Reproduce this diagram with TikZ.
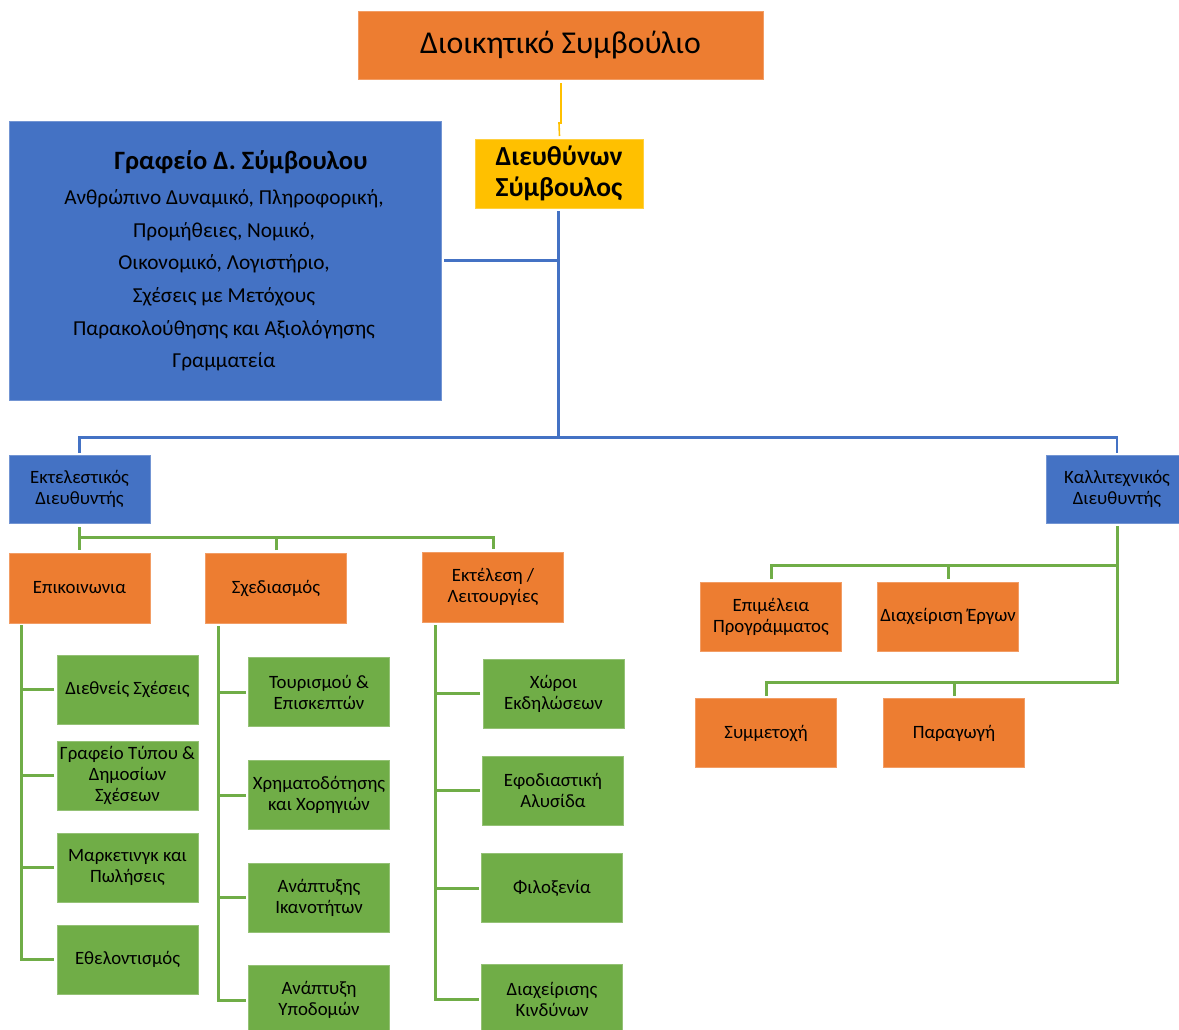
\documentclass[tikz,border=0pt]{standalone}
\usepackage{fontspec}
\setmainfont{Carlito}
\definecolor{corange}{HTML}{ED7D31}
\definecolor{cyellow}{HTML}{FFC000}
\definecolor{cblue}{HTML}{4472C4}
\definecolor{cgreen}{HTML}{70AD47}
\tikzset{
  box/.style={rectangle, inner sep=0pt, outer sep=0pt, align=center,
    minimum width=141pt, minimum height=69pt, text=black,
    font=\fontsize{18.8}{21}\selectfont},
  obox/.style={box, fill=corange, draw=corange!75!white, line width=0.8pt},
  gbox/.style={box, fill=cgreen, draw=cgreen!75!white, line width=0.8pt},
  bbox/.style={box, fill=cblue, draw=cblue!75!white, line width=0.8pt},
  bl/.style={draw=cblue, line width=2.5pt},
  gl/.style={draw=cgreen, line width=3pt},
  yl/.style={draw=cyellow, line width=1.6pt},
}
\begin{document}
\begin{tikzpicture}[x=1pt,y=-1pt]
\useasboundingbox (0,0) rectangle (1179,1029);
\fill[white] (0,0) rectangle (1179,1029);

% top
\node[obox, minimum width=405pt, minimum height=68pt, font=\fontsize{31.8}{36}\selectfont] (board) at (560.5,45) {Διοικητικό Συμβούλιο};
\node[box, fill=cyellow, draw=cyellow!75!white, line width=0.8pt, minimum width=168pt, minimum height=69pt, font=\fontsize{27.5}{31.5}\selectfont\bfseries] (ceo) at (559,173.5) {Διευθύνων\\Σύμβουλος};
\node[bbox, minimum width=432pt, minimum height=279pt] (office) at (225,260.5) {};
\node[font=\fontsize{26.5}{30}\selectfont\bfseries, inner sep=0pt] (officetitle) at (241,162) {Γραφείο Δ. Σύμβουλου};
\node[font=\fontsize{21.3}{32.6}\selectfont, align=center, inner sep=0pt] (officebody) at (224,280.5) {Ανθρώπινο Δυναμικό, Πληροφορική,\\Προμήθειες, Νομικό,\\Οικονομικό, Λογιστήριο,\\Σχέσεις με Μετόχους\\Παρακολούθησης και Αξιολόγησης\\Γραμματεία};

% directors
\node[bbox, minimum height=68pt] (exec) at (79.5,489) {Εκτελεστικός\\Διευθυντής};
\node[bbox, minimum height=68pt] (art) at (1117,489) {Καλλιτεχνικός\\Διευθυντής};

% level 3
\node[obox, minimum height=70pt] (epik) at (79.5,588) {Επικοινωνια};
\node[obox, minimum height=70pt] (sxed) at (276,588) {Σχεδιασμός};
\node[obox, minimum height=70pt] (ektel) at (493,587) {Εκτέλεση /\\Λειτουργίες};

% col 1
\node[gbox] (dieth) at (127.5,689.5) {Διεθνείς Σχέσεις};
\node[gbox] (grafeio) at (127.5,775.5) {Γραφείο Τύπου \&\\Δημοσίων\\Σχέσεων};
\node[gbox] (market) at (127.5,867.5) {Μαρκετινγκ και\\Πωλήσεις};
\node[gbox] (ethel) at (127.5,959.5) {Εθελοντισμός};
% col 2
\node[gbox] (tour) at (319,692) {Τουρισμού \&\\Επισκεπτών};
\node[gbox] (xrim) at (319,795) {Χρηματοδότησης\\και Χορηγιών};
\node[gbox] (anapt) at (319,897.5) {Ανάπτυξης\\Ικανοτήτων};
\node[gbox] (ypod) at (319,1000) {Ανάπτυξη\\Υποδομών};
% col 3
\node[gbox] (xwroi) at (553.5,693.5) {Χώροι\\Εκδηλώσεων};
\node[gbox] (efod) at (553,790.5) {Εφοδιαστική\\Αλυσίδα};
\node[gbox] (filox) at (552,888) {Φιλοξενία};
\node[gbox] (diax) at (552,999) {Διαχείρισης\\Κινδύνων};

% right
\node[obox] (epim) at (771,616.5) {Επιμέλεια\\Προγράμματος};
\node[obox] (diaxerg) at (948,616.5) {Διαχείριση Έργων};
\node[obox] (symm) at (766,733) {Συμμετοχή};
\node[obox] (parag) at (954,733) {Παραγωγή};

% yellow connector
\draw[yl] ([xshift=0.5pt,yshift=-4pt]board.south) -- ++(0,-40pt) -- ++(-2pt,0) -- ([xshift=0.5pt,yshift=3pt]ceo.north);

% blue connectors
\coordinate (bj) at (558.5,437.5);
\draw[bl] ([xshift=-0.5pt,yshift=-3pt]ceo.south) -- (bj);
\draw[bl] ([xshift=3pt]office.east) -- (office.east -| bj);
\draw[bl] ([yshift=2pt]exec.north) |- (bj) -| ([yshift=2pt]art.north);

% green from exec
\coordinate (g1) at (80,537);
\draw[gl] ([yshift=-4pt]exec.south) -- ([yshift=3pt]epik.north);
\draw[gl] (epik.north |- g1) -| ([yshift=3pt]ektel.north);
\draw[gl] ([yshift=3pt]sxed.north) -- (sxed.north |- g1);

% col 1
\coordinate (c1) at (21,625);
\draw[gl] (c1) |- ([xshift=-3pt]ethel.west);
\draw[gl] ([xshift=-3pt]dieth.west) -- (dieth.west -| c1);
\draw[gl] ([xshift=-3pt]grafeio.west) -- (grafeio.west -| c1);
\draw[gl] ([xshift=-3pt]market.west) -- (market.west -| c1);
% col 2
\coordinate (c2) at (218.5,626);
\draw[gl] (c2) |- ([xshift=-3pt]ypod.west);
\draw[gl] ([xshift=-3pt]tour.west) -- (tour.west -| c2);
\draw[gl] ([xshift=-3pt]xrim.west) -- (xrim.west -| c2);
\draw[gl] ([xshift=-3pt]anapt.west) -- (anapt.west -| c2);
% col 3
\coordinate (c3) at (435.5,625);
\draw[gl] (c3) |- ([xshift=-3pt]diax.west);
\draw[gl] ([xshift=-3pt]xwroi.west) -- (xwroi.west -| c3);
\draw[gl] ([xshift=-3pt]efod.west) -- (efod.west -| c3);
\draw[gl] ([xshift=-3pt]filox.west) -- (filox.west -| c3);

% right side
\coordinate (r1) at (1117,565.5);
\coordinate (r2) at (1117,682);
\draw[gl] ([yshift=-3pt]art.south) -- (r2) -| ([yshift=3pt]symm.north);
\draw[gl] ([yshift=3pt]epim.north) |- (r1);
\draw[gl] ([yshift=3pt]diaxerg.north) -- (diaxerg.north |- r1);
\draw[gl] ([yshift=3pt]parag.north) -- (parag.north |- r2);
\end{tikzpicture}
\end{document}
